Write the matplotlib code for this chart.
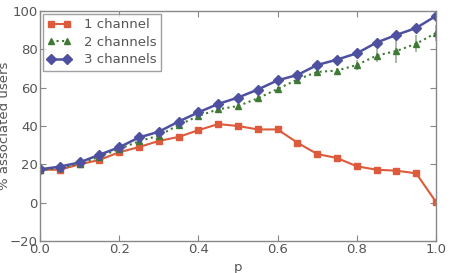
import numpy as np
import matplotlib
matplotlib.use('Agg')
import matplotlib.pyplot as plt

P = [0.0, 0.05, 0.1, 0.15, 0.2, 0.25, 0.3, 0.35, 0.4, 0.45, 0.5,
     0.55, 0.6, 0.65, 0.7, 0.75, 0.8, 0.85, 0.9, 0.95, 1.0]

ONE_CH = [17.2, 17.2, 20.0, 22.3, 26.3, 29.0, 32.2, 34.3, 37.8, 41.0, 40.0,
          38.2, 38.2, 31.3, 25.4, 23.3, 19.0, 17.2, 16.7, 15.3, 0.4]
ONE_ERR = [0.5, 0.5, 0.5, 0.5, 0.6, 0.6, 0.6, 0.6, 0.6, 0.7, 0.7,
           0.8, 0.8, 1.2, 1.5, 1.0, 1.2, 1.5, 1.2, 1.3, 0.5]

TWO_CH = [17.0, 18.0, 20.3, 24.0, 28.0, 32.0, 35.0, 40.5, 45.2, 48.7, 50.4,
          54.4, 59.3, 64.2, 68.2, 68.9, 71.8, 76.7, 79.1, 82.9, 88.5]
TWO_ERR = [0.5, 0.5, 0.5, 0.8, 1.0, 1.5, 2.0, 1.0, 1.0, 1.0, 1.2,
           1.2, 1.0, 1.0, 1.2, 1.5, 2.5, 3.5, 6.0, 4.5, 4.0]

THREE_CH = [17.4, 18.8, 21.0, 25.0, 28.9, 34.0, 37.0, 42.3, 47.1, 51.5, 54.8,
            59.0, 63.8, 66.6, 71.8, 74.6, 77.9, 83.5, 87.5, 91.1, 97.4]

RED = '#DD5A3C'
GREEN = '#3F7A35'
BLUE = '#4E50A0'
GRAY = '#555555'


def main():
    plt.rcParams['font.family'] = ['DejaVu Sans']
    plt.rcParams['font.size'] = 9

    fig = plt.figure(figsize=(4.57, 2.73), dpi=100)
    ax = fig.add_axes([0.0875, 0.117, 0.8665, 0.843])

    # error bars first, lines on top
    ax.errorbar(P, ONE_CH, yerr=ONE_ERR, fmt='none', ecolor='#E8A090',
                elinewidth=1, capsize=0)
    ax.errorbar(P, TWO_CH, yerr=TWO_ERR, fmt='none', ecolor='#9AAE98',
                elinewidth=1.2, capsize=0)

    l1, = ax.plot(P, ONE_CH, color=RED, marker='s', markersize=5,
                  linewidth=1.5, label='1 channel')
    l2, = ax.plot(P, TWO_CH, color=GREEN, marker='^', markersize=5,
                  linestyle=':', linewidth=1.5, label='2 channels')
    l3, = ax.plot(P, THREE_CH, color=BLUE, marker='D', markersize=5,
                  linewidth=1.8, label='3 channels')

    ax.set_xlim(0, 1)
    ax.set_ylim(-20, 100)
    ax.set_xticks([0.0, 0.2, 0.4, 0.6, 0.8, 1.0])
    ax.set_yticks([-20, 0, 20, 40, 60, 80, 100])

    ax.set_xlabel('p', color=GRAY, fontsize=9.5)
    ax.set_ylabel('% associated users', color=GRAY, fontsize=9.5)
    ax.yaxis.set_label_coords(-0.072, 0.5)
    ax.xaxis.set_label_coords(0.5, -0.085)

    for s in ax.spines.values():
        s.set_color('#888888')
        s.set_linewidth(1)
    ax.tick_params(direction='in', top=True, right=True, colors='#888888',
                   labelcolor=GRAY, labelsize=9.5, length=4, pad=1.5)

    leg = ax.legend(handles=[l1, l2, l3], loc='upper left', fancybox=False,
                    borderaxespad=0.2, handlelength=1.8, numpoints=2,
                    labelcolor=GRAY, fontsize=9.5, borderpad=0.35,
                    labelspacing=0.35, handletextpad=1.0)
    leg.get_frame().set_edgecolor('#888888')
    leg.get_frame().set_linewidth(1)

    fig.savefig('out.png', dpi=100)
    plt.close('all')


if __name__ == '__main__':
    main()
